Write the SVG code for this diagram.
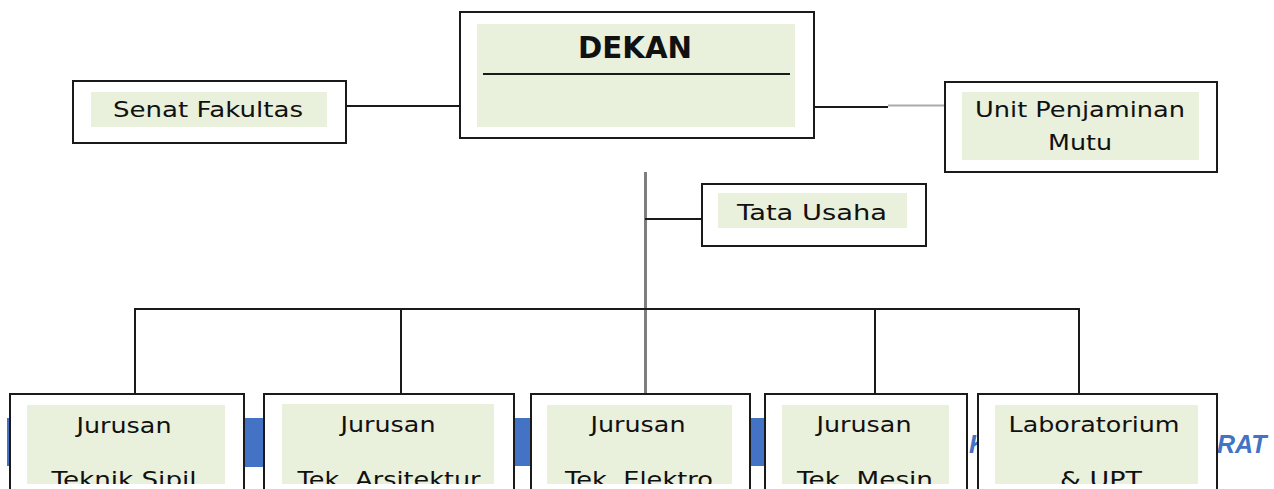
<svg xmlns="http://www.w3.org/2000/svg" width="1274" height="489" viewBox="0 0 1274 489">
<style>
.box{fill:#fff;stroke:#1a1a1a;stroke-width:2}
.inner{fill:#e9f0dc}
.t{font-family:"DejaVu Sans","Liberation Sans",sans-serif;font-size:22px;fill:#111;text-anchor:middle}
.b{font-weight:bold;font-size:30px}
.ln{stroke:#1a1a1a;stroke-width:2;fill:none}
.trunk{stroke:#7f7f7f;stroke-width:3;fill:none}
.blue{fill:#4472c4}
.bt{font-family:"Liberation Sans",Arial,sans-serif;font-weight:bold;font-style:italic;font-size:25px;fill:#4472c4}
</style>
<defs>
<clipPath id="c1"><rect x="0" y="380" width="1274" height="104"/></clipPath>
</defs>
<rect width="1274" height="489" fill="#fff"/>
<g id="background">
<rect class="blue" x="7" y="418" width="4" height="48"/>
<rect class="blue" x="243" y="418" width="22" height="49"/>
<rect class="blue" x="513" y="418" width="19" height="48"/>
<rect class="blue" x="749" y="418" width="17" height="48"/>
<text class="bt" x="969" y="453">K</text>
<text class="bt" x="1217" y="453">RAT</text>
</g>
<g id="connectors">
<line class="ln" x1="346" y1="106" x2="460" y2="106"/>
<line class="ln" x1="814" y1="107" x2="888" y2="107"/>
<line x1="888" y1="105.5" x2="945" y2="105.5" stroke="#aaa" stroke-width="2"/>
<line class="trunk" x1="645.5" y1="172" x2="645.5" y2="394"/>
<line class="ln" x1="645" y1="219" x2="702" y2="219"/>
<polyline class="ln" points="135,394 135,309 1079,309 1079,394"/>
<line class="ln" x1="401" y1="309" x2="401" y2="394"/>
<line class="ln" x1="875" y1="309" x2="875" y2="394"/>
</g>
<g id="dekan">
<rect class="box" x="460" y="12" width="354" height="126"/>
<rect class="inner" x="477" y="24" width="318" height="103"/>
<text class="t b" x="635" y="58" textLength="114" lengthAdjust="spacingAndGlyphs">DEKAN</text>
<line class="ln" x1="483" y1="74" x2="790" y2="74"/>
</g>
<g id="senat">
<rect class="box" x="73" y="81" width="273" height="62"/>
<rect class="inner" x="91" y="92" width="236" height="35"/>
<text class="t" x="208" y="117" textLength="190" lengthAdjust="spacingAndGlyphs">Senat Fakultas</text>
</g>
<g id="upm">
<rect class="box" x="945" y="82" width="272" height="90"/>
<rect class="inner" x="962" y="92" width="237" height="68"/>
<text class="t" x="1080" y="117" textLength="210" lengthAdjust="spacingAndGlyphs">Unit Penjaminan</text>
<text class="t" x="1080" y="150" textLength="64" lengthAdjust="spacingAndGlyphs">Mutu</text>
</g>
<g id="tatausaha">
<rect class="box" x="702" y="184" width="224" height="62"/>
<rect class="inner" x="718" y="193" width="189" height="35"/>
<text class="t" x="812" y="220" textLength="150" lengthAdjust="spacingAndGlyphs">Tata Usaha</text>
</g>
<g id="sipil">
<rect class="box" x="10" y="394" width="234" height="110"/>
<rect class="inner" x="27" y="405" width="198" height="79"/>
<text class="t" x="124" y="433" textLength="95" lengthAdjust="spacingAndGlyphs">Jurusan</text>
<text class="t" x="124" y="487" textLength="145" lengthAdjust="spacingAndGlyphs" clip-path="url(#c1)">Teknik Sipil</text>
</g>
<g id="arsitektur">
<rect class="box" x="264" y="394" width="250" height="110"/>
<rect class="inner" x="282" y="404" width="212" height="80"/>
<text class="t" x="388" y="432" textLength="95" lengthAdjust="spacingAndGlyphs">Jurusan</text>
<text class="t" x="389" y="487" textLength="183" lengthAdjust="spacingAndGlyphs" clip-path="url(#c1)">Tek. Arsitektur</text>
</g>
<g id="elektro">
<rect class="box" x="531" y="394" width="219" height="110"/>
<rect class="inner" x="547" y="405" width="185" height="79"/>
<text class="t" x="638" y="432" textLength="95" lengthAdjust="spacingAndGlyphs">Jurusan</text>
<text class="t" x="639" y="487" textLength="148" lengthAdjust="spacingAndGlyphs" clip-path="url(#c1)">Tek. Elektro</text>
</g>
<g id="mesin">
<rect class="box" x="765" y="394" width="202" height="110"/>
<rect class="inner" x="782" y="405" width="167" height="79"/>
<text class="t" x="864" y="432" textLength="95" lengthAdjust="spacingAndGlyphs">Jurusan</text>
<text class="t" x="865" y="487" textLength="136" lengthAdjust="spacingAndGlyphs" clip-path="url(#c1)">Tek. Mesin</text>
</g>
<g id="lab">
<rect class="box" x="978" y="394" width="239" height="110"/>
<rect class="inner" x="995" y="405" width="203" height="79"/>
<text class="t" x="1094" y="432" textLength="171" lengthAdjust="spacingAndGlyphs">Laboratorium</text>
<text class="t" x="1101" y="487" textLength="82" lengthAdjust="spacingAndGlyphs" clip-path="url(#c1)">&amp; UPT</text>
</g>
</svg>
